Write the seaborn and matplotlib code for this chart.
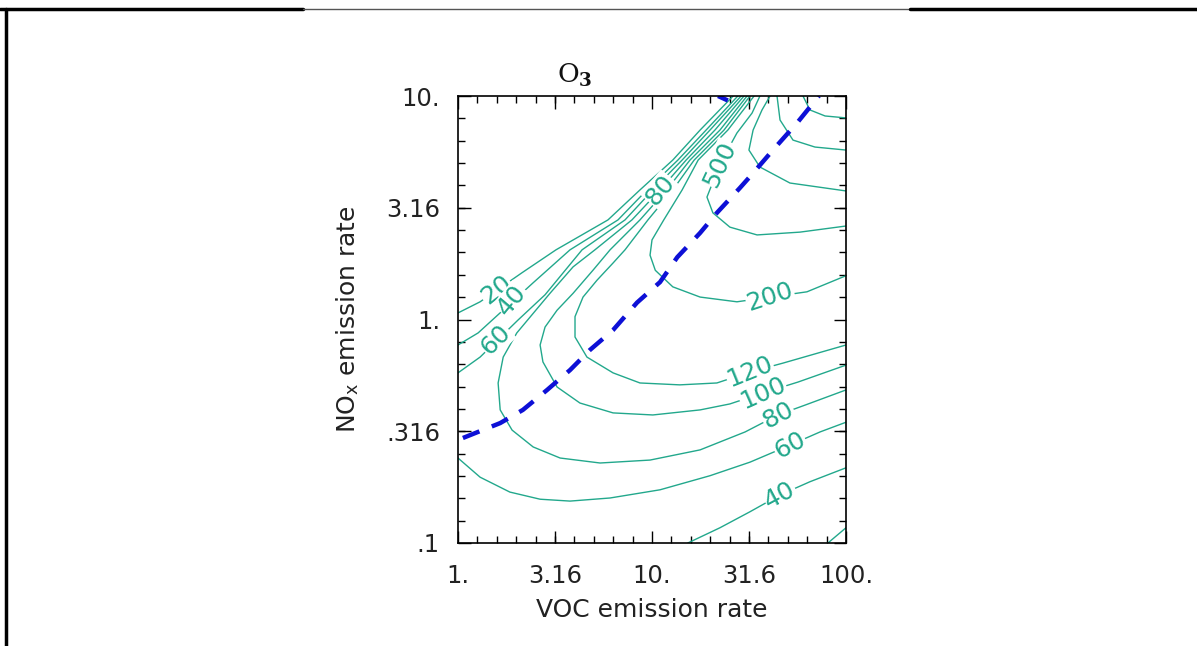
import numpy as np
import pandas as pd
import seaborn as sns
import matplotlib.pyplot as plt
from matplotlib.lines import Line2D
from matplotlib.ticker import FixedLocator, NullFormatter

# O3 isopleths: (VOC emission rate, NOx emission rate)
# upper (VOC-limited) branches
o3_20_voc = [1.00, 1.30, 2.14, 3.20, 5.93, 8.67, 12.8, 17.7, 26.2]
o3_20_nox = [1.07, 1.20, 1.62, 2.05, 2.79, 3.80, 5.17, 7.04, 10.0]
o3_40_voc = [1.00, 1.27, 2.44, 3.78, 6.68, 9.42, 13.6, 19.0, 27.7]
o3_40_nox = [0.769, 0.871, 1.46, 2.05, 2.79, 3.80, 5.17, 7.04, 10.0]
o3_60_voc = [1.00, 1.30, 2.04, 2.81, 4.36, 7.26, 10.1, 14.3, 19.9, 28.8]
o3_60_nox = [0.577, 0.679, 0.995, 1.29, 2.05, 2.79, 3.80, 5.17, 7.04, 10.0]
# lower (NOx-limited) branches
o3_20b_voc = [80.7, 100]
o3_20b_nox = [0.100, 0.117]
o3_40b_voc = [15.3, 22.4, 32.0, 45.7, 65.2, 100]
o3_40b_nox = [0.100, 0.117, 0.138, 0.164, 0.188, 0.217]
o3_60b_voc = [1.00, 1.30, 1.85, 2.65, 3.78, 6.08, 11.0, 19.9, 32.0, 51.4, 73.5, 100]
o3_60b_nox = [0.240, 0.197, 0.169, 0.157, 0.154, 0.159, 0.173, 0.200, 0.230, 0.274, 0.314, 0.347]
# full U-shaped isopleths
o3_80_voc = [29.8, 21.1, 15.0, 11.0, 7.88, 5.08, 3.92, 2.98, 2.01, 1.71, 1.61, 1.65,
             1.90, 2.44, 3.36, 5.40, 9.77, 17.7, 30.2, 44.6, 61.5, 100]
o3_80_nox = [10.0, 7.04, 5.17, 3.80, 2.79, 2.05, 1.72, 1.31, 0.871, 0.679, 0.520, 0.394,
             0.320, 0.269, 0.240, 0.228, 0.235, 0.261, 0.314, 0.374, 0.414, 0.484]
o3_100_voc = [30.9, 22.4, 15.7, 11.9, 8.67, 6.08, 4.96, 3.92, 3.24, 2.81, 2.65, 2.74,
              3.24, 4.25, 6.30, 10.1, 17.7, 25.2, 37.3, 56.6, 100]
o3_100_nox = [10.0, 7.04, 5.17, 3.80, 2.79, 2.05, 1.66, 1.31, 1.10, 0.925, 0.769, 0.646,
              0.499, 0.423, 0.382, 0.374, 0.394, 0.419, 0.469, 0.525, 0.625]
o3_120_voc = [32.0, 23.5, 16.5, 12.8, 9.53, 7.26, 6.30, 5.21, 4.41, 4.01, 4.01, 4.62,
              6.30, 8.67, 13.9, 21.6, 32.0, 47.3, 100]
o3_120_nox = [10.0, 7.04, 5.17, 3.80, 2.79, 2.05, 1.79, 1.50, 1.26, 1.03, 0.835, 0.679,
              0.577, 0.520, 0.510, 0.520, 0.582, 0.638, 0.769]
o3_200_voc = [33.6, 24.6, 17.3, 14.3, 11.5, 10.0, 9.77, 10.4, 12.8, 17.7, 27.4, 40.6, 62.9, 100]
o3_200_nox = [10.0, 7.04, 5.17, 3.80, 2.79, 2.27, 1.94, 1.66, 1.40, 1.26, 1.20, 1.26, 1.33, 1.57]
o3_500_voc = [36.0, 32.8, 27.4, 22.4, 19.2, 20.6, 25.2, 34.8, 57.9, 100]
o3_500_nox = [10.0, 8.39, 6.83, 4.96, 3.53, 3.00, 2.59, 2.39, 2.46, 2.62]
# unlabelled isopleths in the top right corner
o3_hi1_voc = [40.6, 36.9, 33.2, 31.6, 36.0, 51.4, 100]
o3_hi1_nox = [10.0, 8.66, 7.04, 5.73, 4.81, 4.08, 3.76]
o3_hi2_voc = [44.1, 45.7, 53.3, 69.2, 100]
o3_hi2_nox = [10.0, 7.81, 6.35, 5.91, 5.73]
o3_hi3_voc = [60.0, 65.2, 78.0, 100]
o3_hi3_nox = [10.0, 8.66, 8.14, 7.98]

# ridge line (dashed)
ridge_voc = [1.06, 1.65, 2.16, 2.88, 3.78, 4.79, 6.30, 8.37, 11.0, 13.5, 17.7, 21.6,
             28.4, 33.2, 42.0, 55.9, 72.5]
ridge_nox = [0.295, 0.344, 0.394, 0.484, 0.594, 0.731, 0.897, 1.19, 1.47, 1.90, 2.44, 3.00,
             3.88, 4.52, 5.73, 7.57, 10.0]
ridge_top_voc = [21.9, 24.6]
ridge_top_nox = [10.0, 9.55]

# inline contour labels
label_text = ['20', '40', '60', '80', '500', '200', '120', '100', '80', '60', '40']
label_voc = [1.57, 1.90, 1.57, 11.0, 22.4, 40.6, 32.0, 37.3, 44.6, 51.4, 45.7]
label_nox = [1.36, 1.22, 0.81, 3.80, 4.96, 1.26, 0.582, 0.469, 0.374, 0.274, 0.164]
label_rot = [38, 50, 45, 50, 65, 18, 22, 24, 28, 28, 28]

xticks = [1, 3.16, 10, 31.6, 100]
xtick_labels = ['1.', '3.16', '10.', '31.6', '100.']
yticks = [0.1, 0.316, 1, 3.16, 10]
ytick_labels = ['.1', '.316', '1.', '3.16', '10.']

branches = {
    '20a': (o3_20_voc, o3_20_nox), '20b': (o3_20b_voc, o3_20b_nox),
    '40a': (o3_40_voc, o3_40_nox), '40b': (o3_40b_voc, o3_40b_nox),
    '60a': (o3_60_voc, o3_60_nox), '60b': (o3_60b_voc, o3_60b_nox),
    '80': (o3_80_voc, o3_80_nox), '100': (o3_100_voc, o3_100_nox),
    '120': (o3_120_voc, o3_120_nox), '200': (o3_200_voc, o3_200_nox),
    '500': (o3_500_voc, o3_500_nox), 'hi1': (o3_hi1_voc, o3_hi1_nox),
    'hi2': (o3_hi2_voc, o3_hi2_nox), 'hi3': (o3_hi3_voc, o3_hi3_nox),
}
df = pd.concat([pd.DataFrame({'voc': v, 'nox': n, 'branch': k})
                for k, (v, n) in branches.items()], ignore_index=True)

sns.set_style('ticks')
plt.rcParams['font.family'] = ['DejaVu Sans']
plt.rcParams['mathtext.fontset'] = 'dejavuserif'

teal = '#22a88c'
blue = '#0d10d6'

fig = plt.figure(figsize=(11.97, 6.46), dpi=100)
ax = fig.add_axes([458 / 1197, 103 / 646, 388 / 1197, 447 / 646])
ax.set_xscale('log')
ax.set_yscale('log')

sns.lineplot(data=df, x='voc', y='nox', units='branch', estimator=None, sort=False,
             color=teal, linewidth=1.0, ax=ax, legend=False)
for v, n in [(ridge_voc, ridge_nox), (ridge_top_voc, ridge_top_nox)]:
    sns.lineplot(x=v, y=n, sort=False, estimator=None, color=blue, linewidth=3.2, ax=ax)
    ax.lines[-1].set_dashes([4, 3])
    ax.lines[-1].set_clip_on(True)

for t, v, n, r in zip(label_text, label_voc, label_nox, label_rot):
    ax.text(v, n, t, rotation=r, ha='center', va='center', color=teal, fontsize=18,
            bbox=dict(facecolor='white', edgecolor='none', pad=0.3))

ax.set_xlim(1, 100)
ax.set_ylim(0.1, 10)
ax.set_xticks(xticks)
ax.set_xticklabels(xtick_labels)
ax.set_yticks(yticks)
ax.set_yticklabels(ytick_labels)
ax.xaxis.set_minor_locator(FixedLocator(10 ** np.linspace(0, 2, 21)))
ax.yaxis.set_minor_locator(FixedLocator(10 ** np.linspace(-1, 1, 21)))
ax.xaxis.set_minor_formatter(NullFormatter())
ax.yaxis.set_minor_formatter(NullFormatter())
ax.tick_params(which='both', direction='in', top=True, right=True, width=1.0, color='black')
ax.tick_params(which='major', length=9, labelsize=17.5, labelcolor='#222222')
ax.tick_params(which='minor', length=5)
ax.tick_params(axis='x', which='major', pad=15)
ax.tick_params(axis='y', which='major', pad=13)
for s in ax.spines.values():
    s.set_linewidth(1.2)
    s.set_color('black')

ax.set_xlabel('VOC emission rate', fontsize=18, color='#222222', labelpad=7)
ax.set_ylabel(r'NO$_\mathregular{x}$ emission rate', fontsize=18, color='#222222', labelpad=18)
fig.text(575 / 1197, 1 - 75 / 646, r'O$_\mathbf{3}$', family='DejaVu Serif', fontsize=19,
         ha='center', va='center', color='#111111')

# page frame around the figure
ytop = 1 - 9 / 646
fig.add_artist(Line2D([0, 303 / 1197], [ytop, ytop], color='black', lw=2.5))
fig.add_artist(Line2D([303 / 1197, 910 / 1197], [ytop, ytop], color='#555555', lw=1))
fig.add_artist(Line2D([910 / 1197, 1], [ytop, ytop], color='black', lw=2.5))
fig.add_artist(Line2D([6 / 1197, 6 / 1197], [0, ytop], color='black', lw=2.5))

fig.savefig('out.png', dpi=100)
